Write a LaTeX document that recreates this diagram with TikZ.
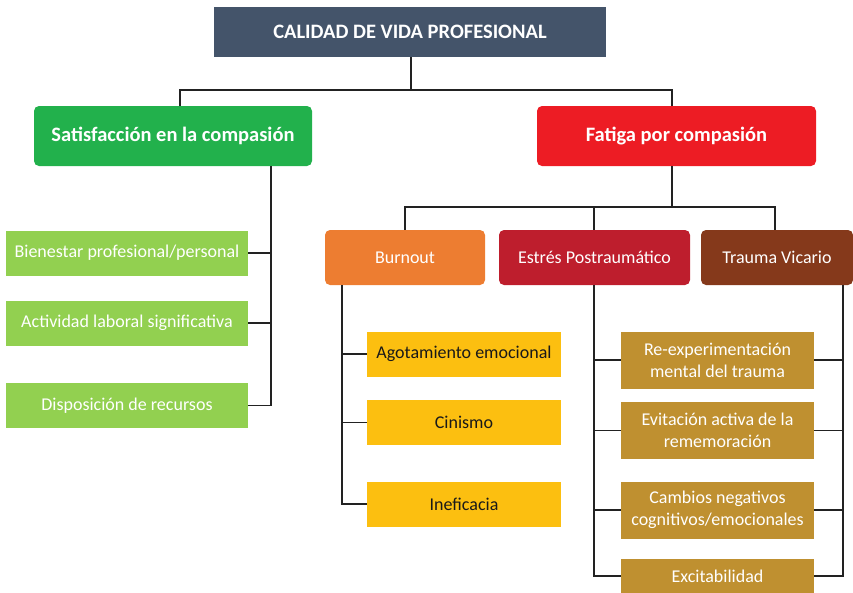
\documentclass[tikz,border=0pt]{standalone}
\usepackage{fontspec}
\setmainfont{Carlito}
\usepackage{tikz}

\definecolor{topc}{HTML}{44546A}
\definecolor{satc}{HTML}{22B14C}
\definecolor{fatc}{HTML}{ED1C24}
\definecolor{leafg}{HTML}{92D050}
\definecolor{burc}{HTML}{ED7D31}
\definecolor{estc}{HTML}{BE1E2D}
\definecolor{trac}{HTML}{85391B}
\definecolor{leafy}{HTML}{FCBF10}
\definecolor{leafo}{HTML}{BF9030}
\definecolor{linec}{HTML}{222222}

\tikzset{
  box/.style={inner sep=2pt, align=center, text=white},
  groupbox/.style={box, rounded corners=5pt, minimum height=60pt, font=\fontsize{20.5}{24}\selectfont\bfseries},
  subbox/.style={box, rounded corners=5pt, minimum height=55pt, font=\fontsize{18}{22}\selectfont},
  leafbox/.style={box, minimum height=45pt, font=\fontsize{18}{22}\selectfont},
  link/.style={draw=linec, line width=1.4pt}
}

\begin{document}
\begin{tikzpicture}[x=1pt,y=-1pt]
  \useasboundingbox (0,0) rectangle (853,592);

  % top
  \node[box, fill=topc, minimum width=392pt, minimum height=50pt,
        font=\fontsize{20.5}{24}\selectfont\bfseries] (top) at (410,32) {CALIDAD DE VIDA PROFESIONAL};

  % two groups
  \node[groupbox, fill=satc, minimum width=278pt] (sat) at (173,136) {Satisfacción en la compasión};
  \node[groupbox, fill=fatc, minimum width=279pt] (fat) at (676.5,136) {Fatiga por compasión};

  % satisfaction leaves
  \node[leafbox, fill=leafg, minimum width=242pt] (bie) at (127,253) {Bienestar profesional/personal};
  \node[leafbox, fill=leafg, minimum width=242pt] (act) at (127,323) {Actividad laboral significativa};
  \node[leafbox, fill=leafg, minimum width=242pt] (dis) at (127,405.5) {Disposición de recursos};

  % fatigue subgroups
  \node[subbox, fill=burc, minimum width=160pt] (bur) at (405,257.5) {Burnout};
  \node[subbox, fill=estc, minimum width=191pt] (est) at (594.5,257.5) {Estrés Postraumático};
  \node[subbox, fill=trac, minimum width=152pt] (tra) at (777,257.5) {Trauma Vicario};

  % burnout leaves
  \node[leafbox, fill=leafy, text=black!90, minimum width=194pt] (ago) at (464,354) {Agotamiento emocional};
  \node[leafbox, fill=leafy, text=black!90, minimum width=194pt] (cin) at (464,422.5) {Cinismo};
  \node[leafbox, fill=leafy, text=black!90, minimum width=194pt] (ine) at (464,504) {Ineficacia};

  % stress / trauma leaves
  \node[leafbox, fill=leafo, minimum width=193pt, minimum height=57pt] (ree) at (717.5,360) {Re-experimentación\\mental del trauma};
  \node[leafbox, fill=leafo, minimum width=193pt, minimum height=57pt] (evi) at (717.5,430.5) {Evitación activa de la\\rememoración};
  \node[leafbox, fill=leafo, minimum width=193pt, minimum height=57pt] (cam) at (717.5,510) {Cambios negativos\\cognitivos/emocionales};
  \node[leafbox, fill=leafo, minimum width=193pt, minimum height=34pt] (exc) at (717.5,576) {Excitabilidad};

  % connectors
  \coordinate (j0) at (411,90);
  \coordinate (j1) at (672,207);
  \coordinate (sv) at (271,0);
  \coordinate (bv) at (342,0);
  \coordinate (ev) at (594,0);
  \coordinate (tv) at (843,0);

  \draw[link] (top.south -| j0) -- (j0);
  \draw[link] (j0) -| ([xshift=7pt]sat.north);
  \draw[link] (j0) -| ([xshift=-4.5pt]fat.north);

  \draw[link] (sat.south -| sv) |- (dis.east);
  \foreach \n in {bie,act}
    \draw[link] (\n.east) -- (\n.east -| sv);

  \draw[link] (fat.south -| j1) -- (j1);
  \draw[link] (j1) -| (bur.north);
  \draw[link] (j1) -| ([xshift=-2pt]tra.north);
  \draw[link] (est.north -| ev) -- (ev |- j1);

  \draw[link] (bur.south -| bv) |- (ine.west);
  \foreach \n in {ago,cin}
    \draw[link] (\n.west) -- (\n.west -| bv);

  \draw[link] (est.south -| ev) |- (exc.west);
  \foreach \n in {ree,evi,cam}
    \draw[link] (\n.west) -- (\n.west -| ev);

  \draw[link] (tra.south -| tv) |- (exc.east);
  \foreach \n in {ree,evi,cam}
    \draw[link] (\n.east) -- (\n.east -| tv);
\end{tikzpicture}
\end{document}
